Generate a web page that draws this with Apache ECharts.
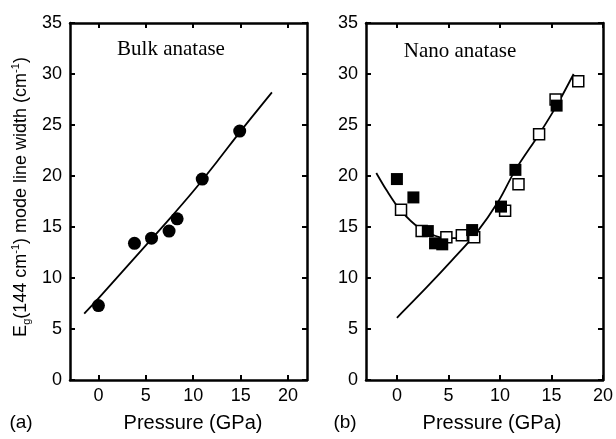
<!DOCTYPE html>
<html>
<head>
<meta charset="utf-8">
<script src="https://cdn.jsdelivr.net/npm/echarts@6/dist/echarts.min.js"></script>
<style>html,body{margin:0;padding:0;background:#fff;}#c{width:616px;height:439px;}</style>
</head>
<body>
<div id="c"></div>
<script>
// ---- data ----
const xTickValues = [0, 5, 10, 15, 20];
const bulkP = [0, 3.8, 5.6, 7.45, 8.3, 10.95, 14.9];
const bulkW = [7.3, 13.4, 13.9, 14.6, 15.8, 19.7, 24.4];
const bulkFitP = [-1.5, 0, 2.5, 5, 7.5, 10, 12.5, 15, 18.3];
const bulkFitW = [6.5, 8.0, 10.6, 13.2, 15.8, 18.5, 21.4, 24.4, 28.2];
const nanoFilledP = [0, 1.6, 3.0, 3.7, 4.4, 7.3, 10.1, 11.5, 15.5];
const nanoFilledW = [19.7, 17.9, 14.6, 13.4, 13.3, 14.7, 17.0, 20.6, 26.9];
const nanoOpenP = [0.4, 2.4, 4.8, 6.3, 7.5, 10.5, 11.8, 13.8, 15.4, 17.6];
const nanoOpenW = [16.7, 14.6, 14.0, 14.2, 14.0, 16.6, 19.2, 24.1, 27.5, 29.3];
const nanoFit1P = [-2, -1, 0.3, 2.2, 4.8, 7.5];
const nanoFit1W = [20.3, 18.6, 16.7, 14.9, 13.9, 13.9];
const nanoFit2P = [0, 2.9, 5.4, 7.7, 9.9, 11.5, 13.8, 15.5, 17.15];
const nanoFit2W = [6.1, 9.1, 11.8, 14.4, 17.6, 20.6, 24.1, 26.9, 30.0];

const zip = (a, b) => a.map((v, i) => [v, b[i]]);
const SANS = 'Liberation Sans, Arial, sans-serif';
const SERIF = 'Liberation Serif, Times New Roman, serif';

const chart = echarts.init(document.getElementById('c'), null, {renderer: 'canvas'});

function xAx(gi, max, pos, showLabel) {
  return {
    type: 'value', gridIndex: gi, min: -3, max: max, position: pos,
    axisLine: {show: true, onZero: false, lineStyle: {color: '#000', width: 2.5}},
    axisTick: {show: true, inside: true, length: 5, customValues: xTickValues, lineStyle: {color: '#000', width: 2}},
    axisLabel: {show: showLabel, customValues: xTickValues, margin: 7, color: '#000', fontSize: 18, fontFamily: SANS},
    splitLine: {show: false}
  };
}
function yAx(gi, pos, showLabel) {
  return {
    type: 'value', gridIndex: gi, min: 0, max: 35, interval: 5, position: pos,
    axisLine: {show: true, onZero: false, lineStyle: {color: '#000', width: 2.5}},
    axisTick: {show: true, inside: true, length: 5, lineStyle: {color: '#000', width: 2}},
    axisLabel: {show: showLabel, margin: 8, color: '#000', fontSize: 18, fontFamily: SANS},
    splitLine: {show: false}
  };
}

const lineStyle = {color: '#000', width: 1.8};

chart.setOption({
  animation: false,
  backgroundColor: '#fff',
  grid: [
    {left: 70, top: 23, width: 237, height: 357},
    {left: 366, top: 23, width: 238, height: 357}
  ],
  xAxis: [xAx(0, 22, 'bottom', true), xAx(0, 22, 'top', false), xAx(1, 20, 'bottom', true), xAx(1, 20, 'top', false)],
  yAxis: [yAx(0, 'left', true), yAx(0, 'right', false), yAx(1, 'left', true), yAx(1, 'right', false)],
  series: [
    {type: 'line', xAxisIndex: 0, yAxisIndex: 0, data: zip(bulkFitP, bulkFitW), smooth: 0.3, showSymbol: false, lineStyle: lineStyle, z: 2},
    {type: 'scatter', xAxisIndex: 0, yAxisIndex: 0, data: zip(bulkP, bulkW), symbol: 'circle', symbolSize: 13, itemStyle: {color: '#000', opacity: 1}, z: 3},
    {type: 'line', xAxisIndex: 2, yAxisIndex: 2, data: zip(nanoFit1P, nanoFit1W), smooth: 0.3, showSymbol: false, lineStyle: lineStyle, z: 2},
    {type: 'line', xAxisIndex: 2, yAxisIndex: 2, data: zip(nanoFit2P, nanoFit2W), smooth: 0.3, showSymbol: false, lineStyle: lineStyle, z: 2},
    {type: 'scatter', xAxisIndex: 2, yAxisIndex: 2, data: zip(nanoOpenP, nanoOpenW), symbol: 'rect', symbolSize: 11, itemStyle: {color: '#fff', borderColor: '#000', borderWidth: 1.5, opacity: 1}, z: 3},
    {type: 'scatter', xAxisIndex: 2, yAxisIndex: 2, data: zip(nanoFilledP, nanoFilledW), symbol: 'rect', symbolSize: 12, itemStyle: {color: '#000', opacity: 1}, z: 4}
  ],
  graphic: [
    {type: 'text', x: 171, y: 49, style: {text: 'Bulk anatase', fill: '#000', fontSize: 21, fontFamily: SERIF, align: 'center', verticalAlign: 'middle', textAlign: 'center', textVerticalAlign: 'middle'}},
    {type: 'text', x: 460, y: 51, style: {text: 'Nano anatase', fill: '#000', fontSize: 21, fontFamily: SERIF, align: 'center', verticalAlign: 'middle', textAlign: 'center', textVerticalAlign: 'middle'}},
    {type: 'text', x: 193, y: 423, style: {text: 'Pressure (GPa)', fill: '#000', fontSize: 20, fontFamily: SANS, align: 'center', verticalAlign: 'middle', textAlign: 'center', textVerticalAlign: 'middle'}},
    {type: 'text', x: 492, y: 423, style: {text: 'Pressure (GPa)', fill: '#000', fontSize: 20, fontFamily: SANS, align: 'center', verticalAlign: 'middle', textAlign: 'center', textVerticalAlign: 'middle'}},
    {type: 'text', x: 21, y: 423, style: {text: '(a)', fill: '#000', fontSize: 19, fontFamily: SANS, align: 'center', verticalAlign: 'middle', textAlign: 'center', textVerticalAlign: 'middle'}},
    {type: 'text', x: 345, y: 423, style: {text: '(b)', fill: '#000', fontSize: 19, fontFamily: SANS, align: 'center', verticalAlign: 'middle', textAlign: 'center', textVerticalAlign: 'middle'}},
    {type: 'text', x: 21, y: 197, rotation: Math.PI / 2, style: {
      text: 'E{sub|g}(144 cm{sup|-1}) mode line width (cm{sup|-1})',
      fill: '#000', fontSize: 18, fontFamily: SANS, lineHeight: 22,
      align: 'center', verticalAlign: 'middle', textAlign: 'center', textVerticalAlign: 'middle',
      rich: {
        sub: {fontSize: 11, lineHeight: 10, verticalAlign: 'bottom', fontFamily: SANS, fill: '#000'},
        sup: {fontSize: 11, lineHeight: 11, verticalAlign: 'top', fontFamily: SANS, fill: '#000'}
      }
    }}
  ]
});
</script>
</body>
</html>
